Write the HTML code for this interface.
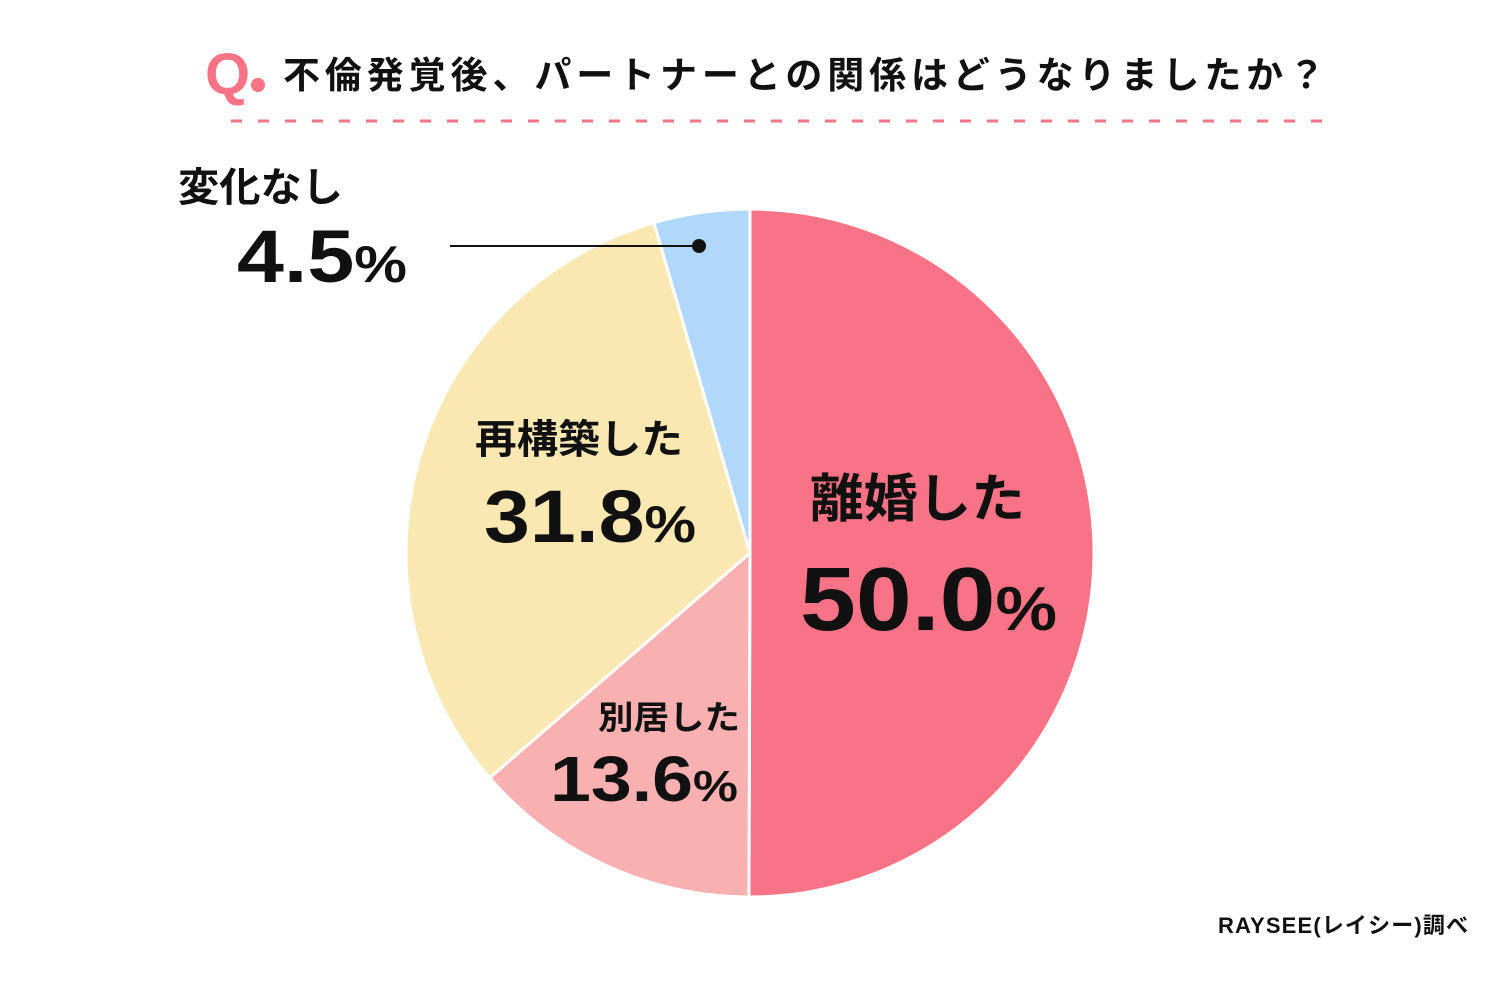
<!DOCTYPE html>
<html><head><meta charset="utf-8"><style>
body{margin:0;background:#fff}
svg{display:block}
text{font-family:"Liberation Sans","Noto Sans CJK JP",sans-serif;font-weight:bold;fill:#111}
</style></head><body>
<svg id="chart" width="1500" height="990" viewBox="0 0 1500 990">
<text x="205" y="94" font-size="58" style="fill:#F97386">Q</text>
<circle cx="258" cy="85" r="7" fill="#F97386"/>
<text x="283" y="88" font-size="37" textLength="1042" lengthAdjust="spacing">不倫発覚後、パートナーとの関係はどうなりましたか？</text>
<line x1="231" y1="121" x2="1325" y2="121" stroke="#F97386" stroke-width="3" stroke-dasharray="11 16"/>
<g id="slices"></g>
<g id="labels"></g>
<line x1="450" y1="246" x2="699" y2="246" stroke="#111" stroke-width="2"/>
<circle cx="699" cy="246" r="7" fill="#111"/>
<text x="1468" y="933" font-size="22" text-anchor="end" textLength="250">RAYSEE(レイシー)調べ</text>
</svg>
<script>
const categories=["離婚した","別居した","再構築した","変化なし"];
const values=[50.0,13.6,31.8,4.5];
const colors=["#F97386","#F8B0B0","#FAE8B2","#B0D8FA"];
const cx=750,cy=553,r=344;
const ns="http://www.w3.org/2000/svg";
const total=values.reduce((a,b)=>a+b,0);
function angle(v){return v/total*Math.PI*2;}
function pt(a,rr){return [cx+rr*Math.sin(a),cy-rr*Math.cos(a)];}
let a0=0;
const g=document.getElementById('slices');
values.forEach((v,i)=>{
  const a1=a0+angle(v);
  const p0=pt(a0,r),p1=pt(a1,r);
  const large=(a1-a0)>Math.PI?1:0;
  const p=document.createElementNS(ns,'path');
  p.setAttribute('d',`M${cx},${cy}L${p0[0]},${p0[1]}A${r},${r} 0 ${large} 1 ${p1[0]},${p1[1]}Z`);
  p.setAttribute('fill',colors[i]);
  p.setAttribute('stroke','#fff');
  p.setAttribute('stroke-width','3');
  
  
  g.appendChild(p);
  a0=a1;
});
const layout=[
  {n:[810,517],nw:215,v:[800,630],vw:257,ns:52,vs:90,ps:62},
  {n:[598,729],nw:142,v:[550,801],vw:188,ns:33,vs:64,ps:44},
  {n:[475,453],nw:208,v:[484,542],vw:212,ns:40,vs:74,ps:52},
  {n:[178,201],nw:165,v:[237,282],vw:170,ns:40,vs:74,ps:52}
];
const lg=document.getElementById('labels');
values.forEach((v,i)=>{
  const L=layout[i];
  const t=document.createElementNS(ns,'text');
  t.setAttribute('x',L.n[0]);t.setAttribute('y',L.n[1]);
  t.setAttribute('font-size',L.ns);
  t.setAttribute('textLength',L.nw);t.setAttribute('lengthAdjust','spacingAndGlyphs');
  t.textContent=categories[i];
  
  
  lg.appendChild(t);
  const tv=document.createElementNS(ns,'text');
  tv.setAttribute('x',L.v[0]);tv.setAttribute('y',L.v[1]);
  tv.setAttribute('font-size',L.vs);
  tv.setAttribute('textLength',L.vw);tv.setAttribute('lengthAdjust','spacingAndGlyphs');
  const s1=document.createElementNS(ns,'tspan');s1.textContent=v.toFixed(1);
  const s2=document.createElementNS(ns,'tspan');s2.textContent='%';s2.setAttribute('font-size',L.ps);
  tv.appendChild(s1);tv.appendChild(s2);
  
  
  lg.appendChild(tv);
});
</script>
</body></html>
